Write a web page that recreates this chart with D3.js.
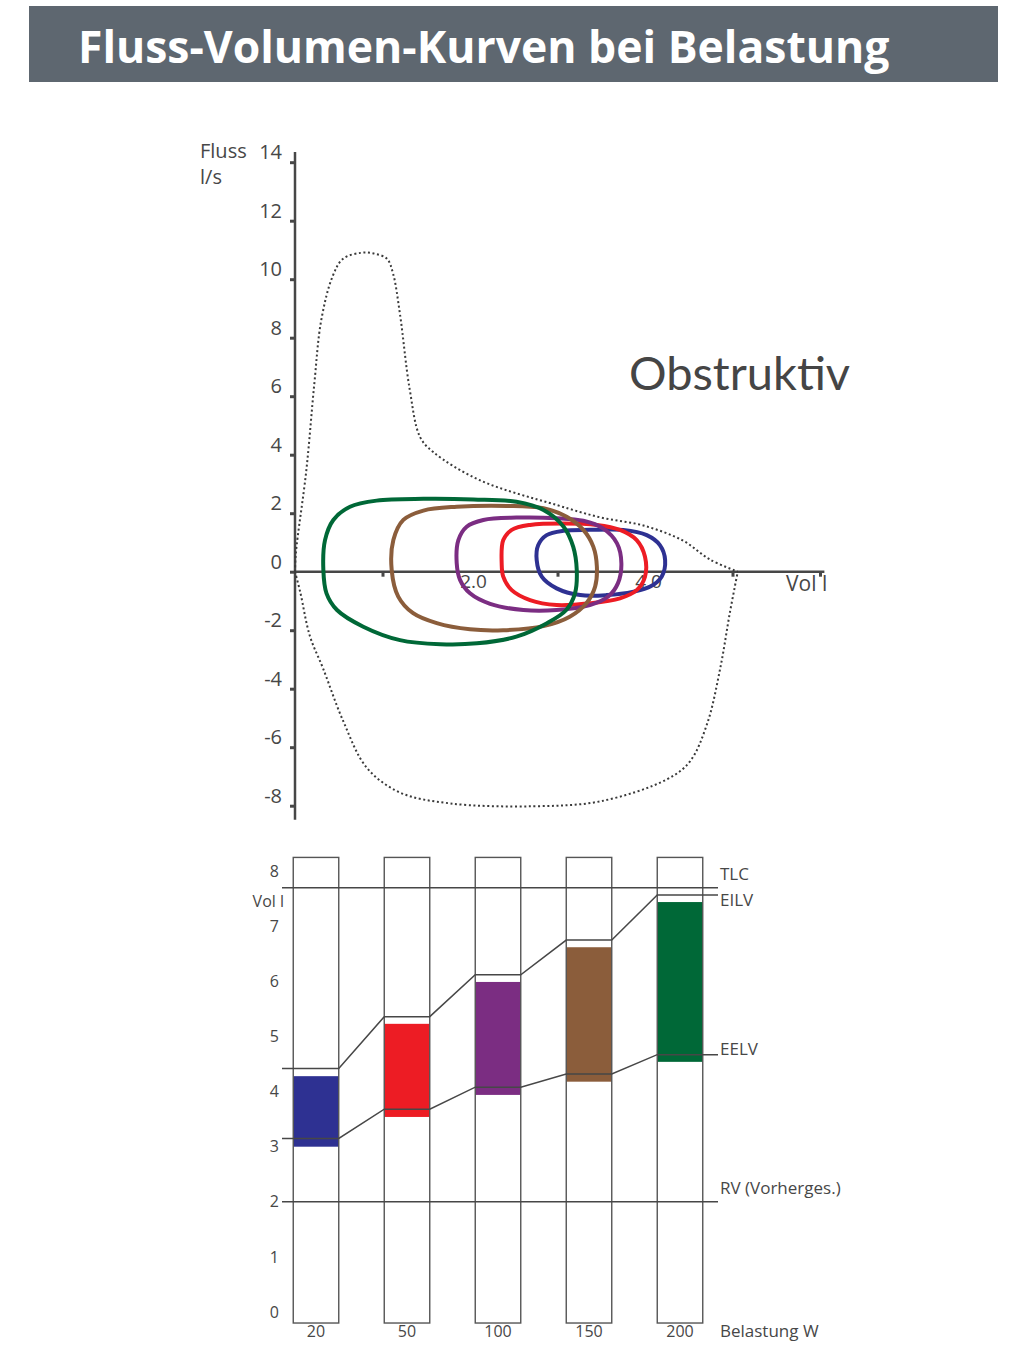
<!DOCTYPE html>
<html><head><meta charset="utf-8">
<script src="https://cdn.jsdelivr.net/npm/d3@7"></script>
<style>
body{margin:0;background:#fff;}
svg{display:block;}
</style></head><body>
<svg id="c" width="1011" height="1367"></svg>
<script>
// ---------- texts ----------
const titleText = "Fluss-Volumen-Kurven bei Belastung";
const panelLabel = "Obstruktiv";
const flowAxisLabel = ["Fluss", "l/s"];
const volAxisLabel = "Vol l";

// ---------- top chart: flow-volume ----------
const flowTicks = [14, 12, 10, 8, 6, 4, 2, 0, -2, -4, -6, -8];
const volTickMarks = [1, 3, 5, 6];
const volTickLabels = [2, 4];

// maximal flow-volume envelope (dotted): [volume l, flow l/s]
const envelopeExp = [[0,0],[0.01,0.64],[0.13,3.48],[0.22,6.4],[0.3,8.6],[0.43,10.1],[0.55,10.7],[0.75,10.9],[0.9,10.88],[1.05,10.7],[1.12,10.2],[1.2,8.8],[1.31,6.25],[1.43,4.6],[1.58,4.09],[2.11,3.13],[2.99,2.28],[3.5,1.85],[3.98,1.58],[4.43,1.07],[4.74,0.42],[5.06,0]];
const envelopeInsp = [[0,0],[0.06,-0.7],[0.17,-2.2],[0.32,-3.3],[0.55,-5.1],[0.82,-6.7],[1.2,-7.55],[1.77,-7.92],[2.72,-8.02],[3.49,-7.85],[4.25,-7.1],[4.51,-6.5],[4.71,-5.2],[4.86,-3.3],[4.97,-1.4],[5.06,0]];

// tidal loops per load step: [volume l, flow l/s]
const loop20 = [[2.762,0.4],[2.78,0.91],[2.876,1.25],[3.066,1.4],[3.37,1.43],[3.75,1.43],[4.02,1.25],[4.17,0.91],[4.23,0.4],[4.19,-0.17],[4.06,-0.51],[3.87,-0.68],[3.56,-0.8],[3.26,-0.8],[2.99,-0.57],[2.82,-0.17]];
const loop50 = [[2.362,0.29],[2.38,1.08],[2.477,1.43],[2.686,1.6],[3.066,1.65],[3.448,1.6],[3.714,1.43],[3.905,1.08],[4.0,0.51],[4.0,-0.17],[3.905,-0.63],[3.714,-0.91],[3.37,-1.08],[2.99,-1.14],[2.686,-0.97],[2.477,-0.63],[2.38,-0.17]];
const loop100 = [[1.848,0.29],[1.867,1.08],[1.962,1.54],[2.152,1.77],[2.53,1.85],[2.99,1.83],[3.295,1.74],[3.52,1.48],[3.68,0.97],[3.73,0.29],[3.69,-0.4],[3.58,-0.85],[3.37,-1.14],[2.99,-1.31],[2.61,-1.31],[2.23,-1.1],[2.0,-0.74],[1.886,-0.28]];
const loop150 = [[1.105,0.06],[1.124,1.08],[1.238,1.77],[1.467,2.09],[1.848,2.22],[2.42,2.25],[2.84,2.17],[3.105,1.88],[3.295,1.43],[3.41,0.85],[3.45,0.17],[3.43,-0.51],[3.33,-1.08],[3.14,-1.54],[2.84,-1.86],[2.38,-2.0],[2.0,-1.97],[1.62,-1.76],[1.35,-1.42],[1.18,-0.85]];
const loop200 = [[0.324,0.06],[0.343,1.08],[0.438,1.77],[0.629,2.22],[0.933,2.43],[1.467,2.49],[2.04,2.47],[2.53,2.39],[2.84,2.11],[3.07,1.54],[3.18,0.85],[3.22,0.06],[3.2,-0.74],[3.1,-1.31],[2.88,-1.76],[2.53,-2.22],[2.08,-2.45],[1.66,-2.48],[1.2,-2.34],[0.78,-1.88],[0.48,-1.31],[0.36,-0.74]];

// ---------- bottom chart: lung volumes ----------
const loads = ["20", "50", "100", "150", "200"];
const loadColors = ["#2e3192", "#ed1c24", "#7b2d82", "#8b5d3b", "#006837"];
const eilv = [4.42, 5.36, 6.12, 6.75, 7.57];
const eelv = [3.15, 3.68, 4.08, 4.32, 4.67];
const tidalTop = [4.28, 5.23, 5.99, 6.62, 7.44];
const tidalBottom = [3.0, 3.54, 3.94, 4.18, 4.54];
const tlc = 7.7;
const rvPredicted = 2.0;
const volTicksBottom = [0, 1, 2, 3, 4, 5, 6, 7, 8];
const columnExtent = [-0.2, 8.25];
const refLabels = [["TLC", 7.95], ["EILV", 7.48], ["EELV", 4.77], ["RV (Vorherges.)", 2.25]];
const loadAxisLabel = "Belastung W";

// ---------- drawing ----------
const svg = d3.select("#c");
const ink = "#474747";
const font = "'Open Sans', 'Noto Sans', sans-serif";

// title banner
svg.append("rect").attr("x", 29).attr("y", 6).attr("width", 969).attr("height", 76).attr("fill", "#5e6770");
svg.append("text").attr("x", 78).attr("y", 63).text(titleText)
  .attr("fill", "#fff").attr("font-family", "'Open Sans', sans-serif").attr("font-weight", 700).attr("font-size", 44.5);

// top scales
const x = d3.scaleLinear().domain([0, 6]).range([295, 820]);
const y = d3.scaleLinear().domain([-8, 14]).range([805.7, 162.2]);

// y axis
const gy = svg.append("g").attr("transform", `translate(${x(0)},0)`)
  .call(d3.axisLeft(y).tickValues(flowTicks).tickSize(5).tickPadding(8).tickFormat(d => String(d)));
gy.select(".domain").remove();
gy.selectAll(".tick line").attr("stroke", ink).attr("stroke-width", 3);
gy.selectAll(".tick text").attr("fill", ink).attr("font-family", font).attr("font-size", 20).attr("dy", "-0.17em");
svg.append("line").attr("x1", x(0)).attr("x2", x(0)).attr("y1", y(14.35)).attr("y2", y(-8.48))
  .attr("stroke", ink).attr("stroke-width", 2.5);

// x axis
svg.append("line").attr("x1", x(0)).attr("x2", x(6.05)).attr("y1", y(0)).attr("y2", y(0))
  .attr("stroke", ink).attr("stroke-width", 2.5);
const gx = svg.append("g").attr("transform", `translate(0,${y(0)})`)
  .call(d3.axisBottom(x).tickValues(volTickMarks).tickSize(5).tickFormat(""));
gx.select(".domain").remove();
gx.selectAll(".tick line").attr("stroke", ink).attr("stroke-width", 3);
const gxl = svg.append("g").attr("transform", `translate(0,${y(0)})`)
  .call(d3.axisBottom(x).tickValues(volTickLabels).tickSize(0).tickPadding(3).tickFormat(d3.format(".1f")));
gxl.select(".domain").remove();
gxl.selectAll(".tick text").attr("fill", ink).attr("font-family", font).attr("font-size", 19).attr("dx", 3);

// axis labels
svg.append("text").attr("x", 200).attr("y", 158).text(flowAxisLabel[0]).attr("fill", ink).attr("font-family", font).attr("font-size", 20);
svg.append("text").attr("x", 200).attr("y", 184).text(flowAxisLabel[1]).attr("fill", ink).attr("font-family", font).attr("font-size", 20);
svg.append("text").attr("x", 786).attr("y", 591).text(volAxisLabel).attr("fill", ink).attr("font-family", font).attr("font-size", 21);

// panel label
svg.append("text").attr("x", 629).attr("y", 390).text(panelLabel).attr("fill", "#454545")
  .attr("font-family", "Lato, 'Open Sans', sans-serif").attr("font-size", 47);

// envelope
const openLine = d3.line().x(d => x(d[0])).y(d => y(d[1])).curve(d3.curveCatmullRom.alpha(0.5));
[envelopeExp, envelopeInsp].forEach(pts => {
  svg.append("path").attr("d", openLine(pts)).attr("fill", "none").attr("stroke", "#3a3a3a")
    .attr("stroke-width", 2).attr("stroke-dasharray", "2,2.6");
});

// loops
const closedLine = d3.line().x(d => x(d[0])).y(d => y(d[1])).curve(d3.curveCatmullRomClosed.alpha(0.5));
const loops = [loop20, loop50, loop100, loop150, loop200];
loops.forEach((pts, i) => {
  svg.append("path").attr("d", closedLine(pts)).attr("fill", "none")
    .attr("stroke", loadColors[i]).attr("stroke-width", 4);
});

// ---------- bottom chart ----------
const xb = d3.scaleBand().domain(loads).range([270.5, 725.5]).paddingInner(0.5).paddingOuter(0.25);
const yb = d3.scaleLinear().domain([0, 8]).range([1312, 871.2]);
const lineLeft = 282, lineRight = 718;

// tidal fills
svg.append("g").selectAll("rect").data(loads).join("rect")
  .attr("x", d => xb(d)).attr("width", xb.bandwidth())
  .attr("y", (d, i) => yb(tidalTop[i])).attr("height", (d, i) => yb(tidalBottom[i]) - yb(tidalTop[i]))
  .attr("fill", (d, i) => loadColors[i]);

// column outlines
svg.append("g").selectAll("rect").data(loads).join("rect")
  .attr("x", d => xb(d)).attr("width", xb.bandwidth())
  .attr("y", yb(columnExtent[1])).attr("height", yb(columnExtent[0]) - yb(columnExtent[1]))
  .attr("fill", "none").attr("stroke", "#555").attr("stroke-width", 1.4);

// TLC and RV reference lines
[tlc, rvPredicted].forEach(v => {
  svg.append("line").attr("x1", lineLeft).attr("x2", lineRight).attr("y1", yb(v)).attr("y2", yb(v))
    .attr("stroke", ink).attr("stroke-width", 1.4);
});

// EILV / EELV step lines
const stepLine = d3.line();
[eilv, eelv].forEach(arr => {
  const pts = [[lineLeft, yb(arr[0])]];
  loads.forEach((d, i) => {
    pts.push([xb(d), yb(arr[i])]);
    pts.push([xb(d) + xb.bandwidth(), yb(arr[i])]);
  });
  pts.push([lineRight, yb(arr[arr.length - 1])]);
  svg.append("path").attr("d", stepLine(pts)).attr("fill", "none").attr("stroke", ink).attr("stroke-width", 1.5);
});

// bottom y axis labels
const gyb = svg.append("g").attr("transform", `translate(${lineLeft},0)`)
  .call(d3.axisLeft(yb).tickValues(volTicksBottom).tickSize(0).tickPadding(3));
gyb.select(".domain").remove();
gyb.selectAll(".tick text").attr("fill", ink).attr("font-family", font).attr("font-size", 16);
svg.append("text").attr("x", 284).attr("y", yb(7.46)).attr("dy", "0.35em").attr("text-anchor", "end")
  .text(volAxisLabel).attr("fill", ink).attr("font-family", font).attr("font-size", 16);

// bottom x axis labels
const gxb = svg.append("g").attr("transform", `translate(0,${yb(columnExtent[0])})`)
  .call(d3.axisBottom(xb).tickSize(0).tickPadding(3));
gxb.select(".domain").remove();
gxb.selectAll(".tick text").attr("fill", ink).attr("font-family", font).attr("font-size", 16);

// right-hand labels
refLabels.forEach(([t, v]) => {
  svg.append("text").attr("x", 720).attr("y", yb(v)).attr("dy", "0.35em").text(t)
    .attr("fill", ink).attr("font-family", font).attr("font-size", 17);
});
svg.append("text").attr("x", 720).attr("y", 1331).attr("dy", "0.35em").text(loadAxisLabel)
  .attr("fill", ink).attr("font-family", font).attr("font-size", 17);
</script>
</body></html>
